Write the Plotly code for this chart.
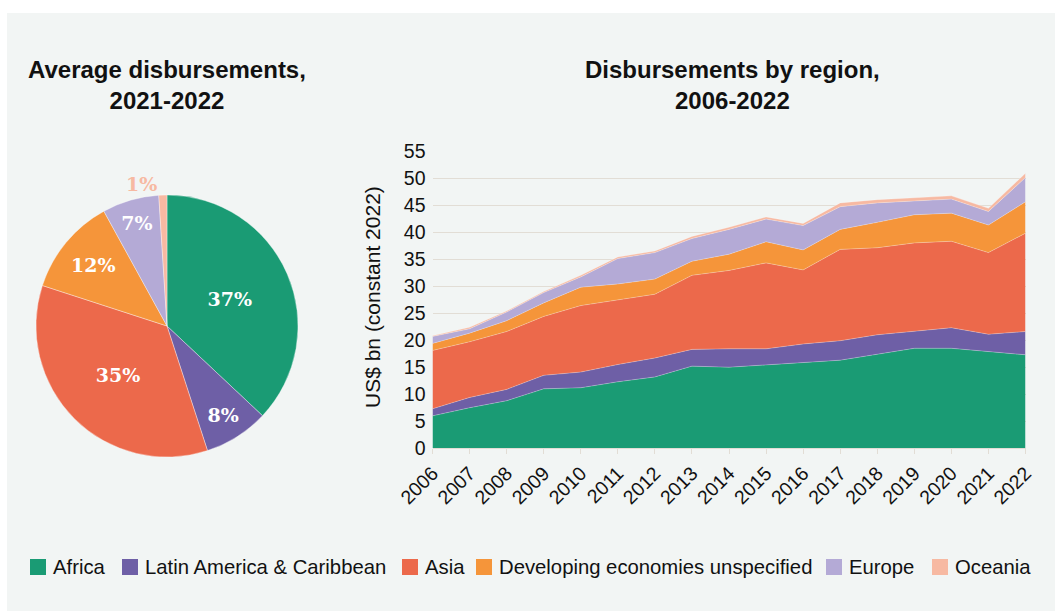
import plotly.graph_objects as go

W, H = 1055, 611

years = list(range(2006, 2023))
regions = ["Africa", "Latin America & Caribbean", "Asia",
           "Developing economies unspecified", "Europe", "Oceania"]
colors = ["#1a9b74", "#6e5fa6", "#ec694b", "#f5953a", "#b4aad6", "#f7b9a2"]

africa = [6.0, 7.5, 8.8, 11.0, 11.2, 12.3, 13.2, 15.2, 15.0, 15.4, 15.9, 16.3, 17.4, 18.5, 18.5, 17.9, 17.3]
latam = [1.3, 1.9, 2.1, 2.5, 2.9, 3.2, 3.5, 3.1, 3.4, 3.0, 3.4, 3.6, 3.6, 3.2, 3.8, 3.2, 4.3]
asia = [10.8, 10.3, 10.7, 10.9, 12.3, 11.9, 11.8, 13.7, 14.5, 15.9, 13.7, 16.9, 16.1, 16.3, 16.0, 15.1, 18.2]
developing = [1.3, 1.6, 2.0, 2.5, 3.4, 3.0, 2.8, 2.6, 3.0, 3.9, 3.7, 3.7, 4.7, 5.2, 5.2, 5.1, 5.8]
europe = [1.3, 0.8, 1.6, 1.9, 1.9, 4.7, 4.9, 4.2, 4.6, 4.2, 4.5, 4.2, 3.6, 2.6, 2.6, 2.5, 4.5]
oceania = [0.1, 0.3, 0.2, 0.2, 0.3, 0.3, 0.3, 0.4, 0.4, 0.4, 0.4, 0.7, 0.6, 0.5, 0.6, 0.6, 0.8]
series = [africa, latam, asia, developing, europe, oceania]

pie_shares = [37, 8, 35, 12, 7, 1]
pie_textpos = ["inside", "inside", "inside", "inside", "inside", "outside"]

y_ticks = list(range(0, 56, 5))

# legend layout (left edge of each swatch, in px)
legend_left = [30, 122, 402, 476, 826, 932]
legend_y = 567

def px(x):
    return x / W

def py(y):
    return 1 - y / H

fig = go.Figure()

fig.add_trace(go.Pie(
    labels=regions, values=pie_shares, sort=False, direction="clockwise",
    rotation=0, automargin=False,
    marker=dict(colors=colors, line=dict(color="rgba(255,255,255,0.6)", width=0.6)),
    texttemplate="%{value}%", textposition=pie_textpos,
    insidetextorientation="horizontal",
    insidetextfont=dict(family="DejaVu Serif", size=19, color="white", weight="bold"),
    outsidetextfont=dict(family="DejaVu Serif", size=19, color=colors[5], weight="bold"),
    domain=dict(x=[px(36), px(298)], y=[py(457), py(195)]),
    hoverinfo="skip", showlegend=False,
))

for name, vals, col in zip(regions, series, colors):
    fig.add_trace(go.Scatter(
        x=years, y=vals, name=name, stackgroup="one", mode="lines",
        line=dict(width=0.6, color="rgba(255,255,255,0.45)"),
        fillcolor=col, showlegend=False, hoverinfo="skip",
    ))

shapes = [dict(type="rect", xref="paper", yref="paper", x0=px(7), x1=1,
               y0=0, y1=py(13), fillcolor="#f2f5f4", line=dict(width=0),
               layer="below")]
annotations = [
    dict(text="<b>Average disbursements,<br>2021-2022</b>", x=px(167), y=py(85),
         xref="paper", yref="paper", showarrow=False, xanchor="center",
         yanchor="middle", font=dict(size=24, color="#111111")),
    dict(text="<b>Disbursements by region,<br>2006-2022</b>", x=px(732), y=py(85),
         xref="paper", yref="paper", showarrow=False, xanchor="center",
         yanchor="middle", font=dict(size=24, color="#111111")),
    dict(text="US$ bn (constant 2022)", x=px(372), y=py(297), xref="paper",
         yref="paper", showarrow=False, textangle=-90, xanchor="center",
         yanchor="middle", font=dict(size=21, color="#111111")),
]
for name, col, lx in zip(regions, colors, legend_left):
    shapes.append(dict(type="rect", xref="paper", yref="paper",
                       x0=px(lx), x1=px(lx + 16), y0=py(legend_y + 8), y1=py(legend_y - 8),
                       fillcolor=col, line=dict(width=0)))
    annotations.append(dict(text=name, x=px(lx + 21), y=py(legend_y), xref="paper",
                            yref="paper", showarrow=False, xanchor="left",
                            yanchor="middle", font=dict(size=20.3, color="#111111")))

fig.update_layout(
    width=W, height=H, autosize=False,
    margin=dict(l=0, r=0, t=0, b=0, pad=0, autoexpand=False),
    paper_bgcolor="white", plot_bgcolor="rgba(0,0,0,0)",
    font=dict(family="Liberation Sans, Arial, sans-serif", color="#111111"),
    showlegend=False,
    xaxis=dict(domain=[px(432.5), px(1025.5)], range=[2006, 2022],
               tickmode="array", tickvals=years, ticktext=[str(y) for y in years],
               tickangle=-45, tickfont=dict(size=19.5), automargin=False,
               showgrid=False, showline=True, linecolor="#e2ddd5", linewidth=1,
               ticks="outside", ticklen=5, tickcolor="#e2ddd5", zeroline=False),
    yaxis=dict(domain=[py(448.3), py(151)], range=[0, 55], automargin=False,
               tickmode="array", tickvals=y_ticks,
               tickfont=dict(size=19.5), showgrid=True, gridcolor="#e2ddd5",
               gridwidth=1, zeroline=False, showline=False, ticks="",
               ticklabelstandoff=6),
    shapes=shapes,
    annotations=annotations,
)

fig.write_html("out.html")
